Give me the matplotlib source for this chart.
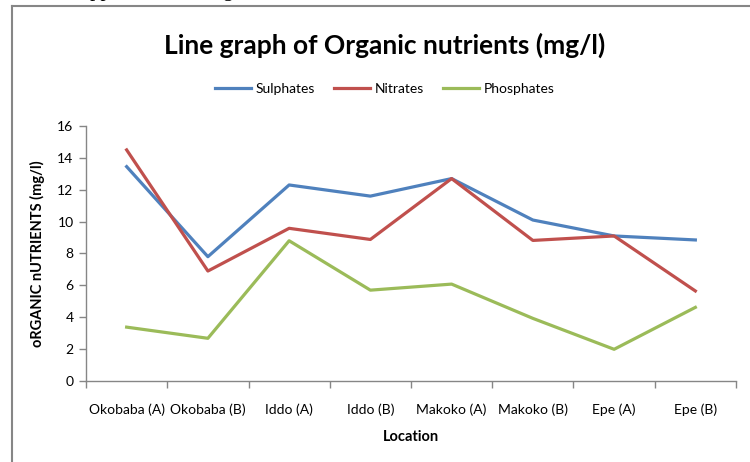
import matplotlib
matplotlib.use('Agg')
import matplotlib.pyplot as plt
import numpy as np
from matplotlib.lines import Line2D

# Organic nutrient concentrations (mg/l) per sampling location
locations = ['Okobaba (A)', 'Okobaba (B)', 'Iddo (A)', 'Iddo (B)',
             'Makoko (A)', 'Makoko (B)', 'Epe (A)', 'Epe (B)']
sulphates = [13.45, 7.8, 12.3, 11.6, 12.7, 10.1, 9.1, 8.85]
nitrates = [14.5, 6.9, 9.58, 8.88, 12.7, 8.82, 9.1, 5.65]
phosphates = [3.38, 2.68, 8.8, 5.7, 6.08, 3.93, 1.99, 4.62]
yticks = [0, 2, 4, 6, 8, 10, 12, 14, 16]

plt.rcParams['font.family'] = ['Lato', 'DejaVu Sans']
axis_grey = '#868686'

fig = plt.figure(figsize=(7.5, 4.62), dpi=100)
ax = fig.add_axes([0.1147, 0.1753, 0.8666, 0.552])

x = np.arange(len(locations))
ax.plot(x, sulphates, color='#4F81BD', lw=2.3, label='Sulphates', solid_joinstyle='round')
ax.plot(x, nitrates, color='#C0504D', lw=2.3, label='Nitrates', solid_joinstyle='round')
ax.plot(x, phosphates, color='#9BBB59', lw=2.3, label='Phosphates', solid_joinstyle='round')

ax.set_xlim(-0.5, len(locations) - 0.5)
ax.set_ylim(0, 16)
ax.set_yticks(yticks)
ax.set_xticks(x)
ax.set_xticklabels(locations)
ax.set_xticks(np.arange(len(locations) + 1) - 0.5, minor=True)
ax.tick_params(axis='x', which='major', length=0, pad=16, labelsize=10, colors='#000000')
ax.tick_params(axis='x', which='minor', length=5, color=axis_grey, width=1)
ax.tick_params(axis='y', length=5, color=axis_grey, width=1, labelsize=10, pad=4)

for s in ['top', 'right']:
    ax.spines[s].set_visible(False)
for s in ['left', 'bottom']:
    ax.spines[s].set_color(axis_grey)
    ax.spines[s].set_linewidth(1)

ax.set_xlabel('Location', fontsize=10.5, fontweight='bold', labelpad=10)
ax.set_ylabel('oRGANIC nUTRIENTS (mg/l)', fontsize=10.5, fontweight='bold', labelpad=9)

fig.text(0.513, 0.902, 'Line graph of Organic nutrients (mg/l)', ha='center', va='center',
         fontsize=19, fontweight='bold')
fig.legend(loc='center', bbox_to_anchor=(0.513, 0.807), ncol=3, frameon=False,
           fontsize=10, handlelength=2.6, handletextpad=0.3, columnspacing=1.4)

# chart frame and clipped document text above it
fig.add_artist(Line2D([0.016, 0.016], [0, 0.988], transform=fig.transFigure,
                      color=axis_grey, lw=1.5))
fig.add_artist(Line2D([0.016, 1.0], [0.988, 0.988], transform=fig.transFigure,
                      color=axis_grey, lw=1.5))
fig.text(0.1, 1.009, 'Appendix showing', family='Liberation Serif', fontsize=15,
         ha='left', va='baseline')

fig.savefig('out.png', dpi=100)
